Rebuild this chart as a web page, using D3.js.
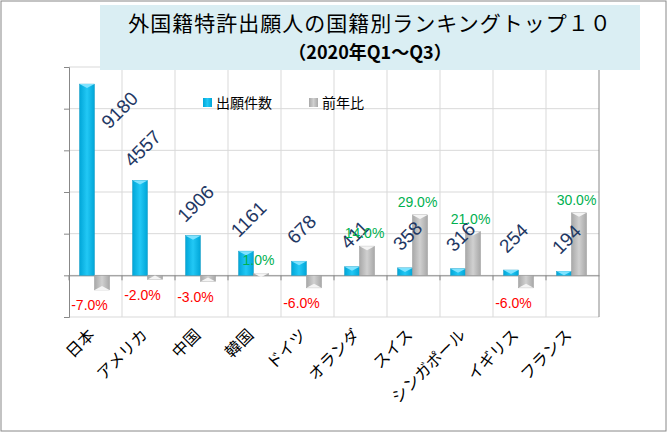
<!DOCTYPE html><html><head><meta charset="utf-8"><script src="https://cdn.jsdelivr.net/npm/d3@7"></script>
<style>body{margin:0;background:#fff}svg{font-family:"Noto Sans CJK JP",sans-serif}</style></head><body><svg width="672" height="435"></svg><script>
const categories=["日本","アメリカ","中国","韓国","ドイツ","オランダ","スイス","シンガポール","イギリス","フランス"];
const counts=[9180,4557,1906,1161,678,411,358,316,254,194];
const yoy=[-7,-2,-3,1,-6,14,29,21,-6,30];
const countTicks=[-2000,0,2000,4000,6000,8000,10000];
const svg=d3.select("svg");
const defs=svg.append("defs");
function grad(id,c1,c2){const g=defs.append("linearGradient").attr("id",id);g.append("stop").attr("offset","0").attr("stop-color",c1);g.append("stop").attr("offset","0.5").attr("stop-color",c2);g.append("stop").attr("offset","1").attr("stop-color",c1);}
grad("gb","#00a6d8","#22c8f5");grad("gg","#a8a8a8","#d0d0d0");
svg.append("rect").attr("x",1).attr("y",1).attr("width",665).attr("height",430).attr("fill","#fff").attr("stroke","#888");
const x=d3.scaleBand().domain(categories).range([69,599]);
const y=d3.scaleLinear().domain([-2000,10000]).range([317,67]);
const y2=d3.scaleLinear().domain([-20,100]).range([317,67]);
const g=svg.append("g");
g.selectAll(".h").data(countTicks).join("line").attr("x1",69).attr("x2",599).attr("y1",d=>y(d)).attr("y2",d=>y(d)).attr("stroke","#d9d9d9");
g.selectAll(".v").data(categories.slice(1)).join("line").attr("x1",d=>x(d)).attr("x2",d=>x(d)).attr("y1",67).attr("y2",317).attr("stroke","#d9d9d9");
g.append("line").attr("x1",599).attr("x2",599).attr("y1",67).attr("y2",317).attr("stroke","#888");
svg.append("g").attr("transform","translate(69,0)").call(d3.axisLeft(y).tickValues(countTicks).tickFormat("").tickSize(5)).call(a=>a.select(".domain").attr("stroke","#888")).selectAll("line").attr("stroke","#888");
svg.append("g").attr("transform",`translate(0,${y(0)})`).call(d3.axisBottom(x).tickFormat("").tickSize(5).tickSizeOuter(0)).call(a=>a.select(".domain").attr("stroke","#888")).selectAll("line").attr("stroke","#888").attr("transform",`translate(${-x.bandwidth()/2},0)`);
const bw=15;
categories.forEach((c,i)=>{
 const cx=x(c)+x.bandwidth()/2;
 const yb=y(counts[i]);
 svg.append("rect").attr("x",cx-bw-1).attr("y",yb).attr("width",bw).attr("height",y(0)-yb).attr("fill","url(#gb)").attr("stroke","#1a9cc4").attr("stroke-width",0.5);
 svg.append("path").attr("d",`M${cx-bw-1},${yb}L${cx-1},${yb}L${cx-bw/2-1},${yb+4}Z`).attr("fill","#7fe3ff");
 const v=yoy[i],yt=Math.min(y2(v),y2(0)),h=Math.abs(y2(v)-y2(0));
 svg.append("rect").attr("x",cx-1).attr("y",yt).attr("width",bw).attr("height",h).attr("fill","url(#gg)").attr("stroke","#999").attr("stroke-width",0.5);
 svg.append("path").attr("d",v>=0?`M${cx-1},${yt}L${cx+bw-1},${yt}L${cx+bw/2-1},${yt+4}Z`:`M${cx-1},${yt+h}L${cx+bw-1},${yt+h}L${cx+bw/2-1},${yt+h-4}Z`).attr("fill","#f4f4f4");
 let lx=cx-6, ly=yb-32;
 if(ly<100){lx=cx+24;ly=110;}
 svg.append("text").attr("transform",`translate(${lx},${ly}) rotate(-45)`).attr("font-family","Liberation Sans,Arial").attr("font-size",19).attr("fill","#1f3864").attr("text-anchor","middle").attr("dy","0.35em").text(counts[i]);
 svg.append("text").attr("x",cx+ (v>=0?4:-6)).attr("y",v>=0?y2(v)-8:y2(v)+20).attr("text-anchor","middle").attr("font-family","Liberation Sans,Arial").attr("font-size",14).attr("fill",v>=0?"#00b050":"#ff0000").text(v.toFixed(1)+"%");
 svg.append("text").attr("transform",`translate(${cx},${336}) rotate(-45)`).attr("text-anchor","end").attr("font-size",16).attr("fill","#000").text(c);
});
svg.append("rect").attr("x",100).attr("y",5).attr("width",540).attr("height",65).attr("fill","#daeef3");
svg.append("text").attr("x",370).attr("y",31).attr("text-anchor","middle").attr("font-size",21).attr("letter-spacing",1).text("外国籍特許出願人の国籍別ランキングトップ１０");
svg.append("text").attr("x",370).attr("y",59).attr("text-anchor","middle").attr("font-size",18).attr("font-weight","bold").text("（2020年Q1～Q3）");
const lg=[["出願件数","url(#gb)",203],["前年比","url(#gg)",309]];
lg.forEach(l=>{svg.append("rect").attr("x",l[2]).attr("y",98).attr("width",9).attr("height",9).attr("fill",l[1]);svg.append("text").attr("x",l[2]+13).attr("y",108).attr("font-size",14).text(l[0]);});
</script></body></html>
